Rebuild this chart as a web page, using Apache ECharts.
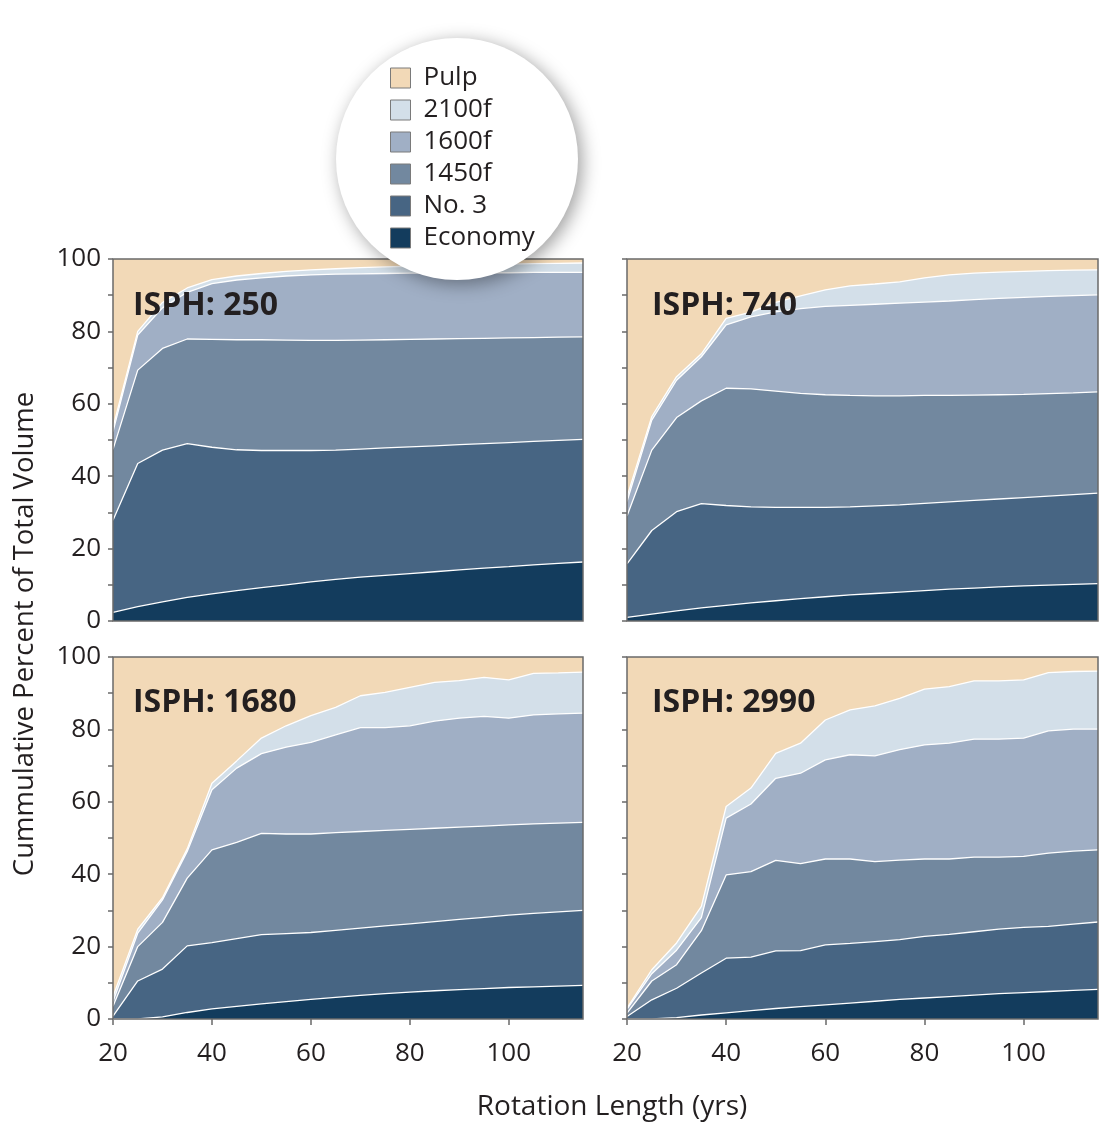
<!DOCTYPE html>
<html>
<head>
<meta charset="utf-8">
<script src="https://cdn.jsdelivr.net/npm/echarts@6/dist/echarts.min.js"></script>
<style>
  html, body { margin: 0; padding: 0; background: #ffffff; }
  #chart { width: 1102px; height: 1130px; }
</style>
</head>
<body>
<div id="chart"></div>
<script>
// Rotation lengths (years) sampled in every panel
const years = [20, 25, 30, 35, 40, 45, 50, 55, 60, 65, 70, 75, 80, 85, 90, 95, 100, 105, 110, 115];

// Tick values
const xTickLabels = [20, 40, 60, 80, 100];
const yTickLabels = [0, 20, 40, 60, 80, 100];
const yTickMarks = [0, 10, 20, 30, 40, 50, 60, 70, 80, 90, 100];

// Grade names, drawn top to bottom
const grades = ['Pulp', '2100f', '1600f', '1450f', 'No. 3', 'Economy'];
const panelTitles = ['ISPH: 250', 'ISPH: 740', 'ISPH: 1680', 'ISPH: 2990'];

// Cumulative percent of total volume (upper edge of each grade band)
const pulpTop = [100, 100, 100, 100, 100, 100, 100, 100, 100, 100, 100, 100, 100, 100, 100, 100, 100, 100, 100, 100];

// ISPH 250
const f2100_250 = [53.5, 80, 88, 92, 94.3, 95.3, 96, 96.6, 97, 97.3, 97.6, 97.8, 98, 98.2, 98.4, 98.5, 98.6, 98.7, 98.8, 98.9];
const f1600_250 = [52.3, 79, 86.5, 90.8, 93.2, 94.2, 94.8, 95.3, 95.6, 95.8, 95.9, 96, 96.1, 96.1, 96.2, 96.2, 96.2, 96.3, 96.3, 96.3];
const f1450_250 = [47.4, 69.3, 75.3, 77.9, 77.8, 77.7, 77.7, 77.6, 77.5, 77.5, 77.6, 77.7, 77.8, 77.9, 78, 78.1, 78.2, 78.3, 78.4, 78.5];
const no3_250 = [27.8, 43.5, 47.2, 49, 48, 47.3, 47.1, 47.1, 47.1, 47.2, 47.5, 47.8, 48.1, 48.4, 48.7, 49, 49.3, 49.6, 49.9, 50.2];
const econ_250 = [2.4, 4, 5.3, 6.5, 7.5, 8.4, 9.2, 10, 10.8, 11.5, 12.1, 12.6, 13.1, 13.6, 14.1, 14.6, 15, 15.5, 15.9, 16.3];

// ISPH 740
const f2100_740 = [34.3, 56.5, 67.5, 73.8, 83.6, 85.3, 88, 89.8, 91.5, 92.6, 93.1, 93.7, 94.8, 95.6, 96.1, 96.4, 96.6, 96.8, 96.9, 97];
const f1600_740 = [33, 55.5, 66.5, 73, 81.8, 84, 85.4, 86.3, 86.9, 87.2, 87.5, 87.8, 88.1, 88.4, 88.8, 89.1, 89.4, 89.7, 89.9, 90.1];
const f1450_740 = [29, 47.2, 56.2, 60.8, 64.3, 64.1, 63.5, 62.9, 62.5, 62.3, 62.2, 62.2, 62.3, 62.3, 62.4, 62.5, 62.6, 62.8, 63, 63.3];
const no3_740 = [15.8, 25, 30.2, 32.4, 31.9, 31.5, 31.4, 31.4, 31.4, 31.5, 31.8, 32.1, 32.5, 32.9, 33.3, 33.7, 34.1, 34.5, 34.9, 35.3];
const econ_740 = [1, 1.9, 2.8, 3.6, 4.3, 5, 5.6, 6.2, 6.7, 7.2, 7.6, 8, 8.4, 8.8, 9.1, 9.4, 9.7, 9.9, 10.1, 10.3];

// ISPH 1680
const f2100_1680 = [6.2, 24.8, 33.5, 47, 65.1, 71.3, 77.6, 81, 83.8, 86.1, 89.3, 90.2, 91.6, 93, 93.5, 94.4, 93.7, 95.5, 95.6, 95.8];
const f1600_1680 = [4.8, 23.7, 32.9, 46.3, 63.3, 69.3, 73.3, 75.1, 76.4, 78.5, 80.5, 80.5, 81, 82.3, 83.1, 83.6, 83.1, 84, 84.3, 84.5];
const f1450_1680 = [3.5, 20, 26.7, 38.9, 46.7, 48.8, 51.3, 51.1, 51.1, 51.5, 51.8, 52.1, 52.4, 52.7, 53, 53.3, 53.6, 53.9, 54.1, 54.3];
const no3_1680 = [0.8, 10.5, 13.8, 20.2, 21.1, 22.2, 23.3, 23.6, 23.9, 24.5, 25.1, 25.7, 26.3, 26.9, 27.5, 28.1, 28.7, 29.2, 29.6, 30];
const econ_1680 = [0, 0, 0.6, 1.8, 2.8, 3.5, 4.2, 4.8, 5.4, 6, 6.5, 7, 7.4, 7.8, 8.1, 8.4, 8.7, 8.9, 9.1, 9.3];

// ISPH 2990
const f2100_2990 = [3, 13.6, 21, 31.1, 58.7, 63.8, 73.4, 76.2, 82.6, 85.4, 86.5, 88.6, 91.1, 91.8, 93.4, 93.4, 93.7, 95.7, 96, 96.1];
const f1600_2990 = [2.7, 12.5, 19, 28, 55.5, 59.4, 66.5, 67.9, 71.6, 73, 72.7, 74.4, 75.7, 76.2, 77.3, 77.3, 77.6, 79.6, 80.1, 80.1];
const f1450_2990 = [1.6, 10.5, 15, 24.4, 39.8, 40.7, 43.8, 42.9, 44.2, 44.2, 43.5, 43.9, 44.2, 44.2, 44.7, 44.7, 44.9, 45.8, 46.4, 46.7];
const no3_2990 = [0.7, 5.3, 8.5, 12.7, 16.8, 17.1, 18.8, 18.9, 20.5, 20.9, 21.4, 21.9, 22.8, 23.4, 24.1, 24.8, 25.3, 25.6, 26.2, 26.8];
const econ_2990 = [0, 0, 0.4, 1.1, 1.7, 2.3, 2.9, 3.4, 3.9, 4.4, 4.9, 5.4, 5.8, 6.2, 6.6, 7, 7.3, 7.6, 7.9, 8.2];

const panelBands = [
  [pulpTop, f2100_250, f1600_250, f1450_250, no3_250, econ_250],
  [pulpTop, f2100_740, f1600_740, f1450_740, no3_740, econ_740],
  [pulpTop, f2100_1680, f1600_1680, f1450_1680, no3_1680, econ_1680],
  [pulpTop, f2100_2990, f1600_2990, f1450_2990, no3_2990, econ_2990]
];

// Styling
const gradeColors = ['#f2d9b7', '#d3dfe9', '#a0afc5', '#72889f', '#476583', '#133c5d'];
const FONT = "'Open Sans', 'Noto Sans', sans-serif";
const INK = '#231f20';
const FRAME = '#6a6a6a';

// Panel boxes in pixels: top-left, top-right, bottom-left, bottom-right
const boxes = [
  { left: 113, top: 259, width: 470, height: 362 },
  { left: 627, top: 259, width: 471, height: 362 },
  { left: 113, top: 657, width: 470, height: 362 },
  { left: 627, top: 657, width: 471, height: 362 }
];

const grids = boxes.map(b => ({ left: b.left, top: b.top, width: b.width, height: b.height, containLabel: false }));

const xAxes = boxes.map((b, i) => {
  const bottomRow = i >= 2;
  return {
    gridIndex: i, type: 'value', min: 20, max: 115,
    axisLine: { show: false },
    splitLine: { show: false },
    axisTick: { show: bottomRow, inside: false, length: 6, customValues: xTickLabels,
                lineStyle: { color: FRAME, width: 1.5 } },
    axisLabel: { show: bottomRow, customValues: xTickLabels, margin: 22,
                 fontFamily: FONT, fontSize: 26, color: INK }
  };
});

const yAxes = boxes.map((b, i) => {
  const leftCol = i % 2 === 0;
  return {
    gridIndex: i, type: 'value', min: 0, max: 100, interval: 10,
    axisLine: { show: false },
    splitLine: { show: false },
    axisTick: { show: true, inside: false, length: 5, customValues: yTickMarks,
                lineStyle: { color: FRAME, width: 1.5 } },
    axisLabel: { show: leftCol, customValues: yTickLabels, margin: 12,
                 fontFamily: FONT, fontSize: 26, color: INK }
  };
});

const series = [];
panelBands.forEach((bands, p) => {
  bands.forEach((vals, g) => {
    series.push({
      name: grades[g],
      type: 'line',
      xAxisIndex: p, yAxisIndex: p,
      data: years.map((yr, k) => [yr, vals[k]]),
      showSymbol: false,
      symbol: 'none',
      silent: true,
      itemStyle: { color: gradeColors[g] },
      lineStyle: { color: '#ffffff', width: g === 0 ? 0 : 1.3 },
      areaStyle: { color: gradeColors[g], opacity: 1, origin: 'start' },
      z: 2
    });
  });
});

const graphics = [];
// Panel frames
boxes.forEach(b => {
  graphics.push({
    type: 'rect', z: 50, silent: true,
    shape: { x: b.left, y: b.top, width: b.width, height: b.height },
    style: { fill: null, stroke: FRAME, lineWidth: 1.5 }
  });
});
// Panel headings
const titlePos = [[133, 306], [652, 306], [133, 703], [652, 703]];
panelTitles.forEach((t, i) => {
  graphics.push({
    type: 'text', z: 60, silent: true,
    style: { x: titlePos[i][0], y: titlePos[i][1], text: t, fill: INK,
             font: "bold 32px " + FONT, align: 'left', verticalAlign: 'middle' }
  });
});
// Axis titles
graphics.push({
  type: 'text', z: 60, silent: true, x: 25, y: 634, rotation: Math.PI / 2,
  style: { x: 0, y: 0, text: 'Cummulative Percent of Total Volume', fill: INK,
           font: "27.5px " + FONT, align: 'center', verticalAlign: 'middle' }
});
graphics.push({
  type: 'text', z: 60, silent: true,
  style: { x: 612, y: 1107, text: 'Rotation Length (yrs)', fill: INK,
           font: "28px " + FONT, align: 'center', verticalAlign: 'middle' }
});
// Round legend backdrop
graphics.push({
  type: 'circle', z: 100, silent: true,
  shape: { cx: 457, cy: 159, r: 121 },
  style: { fill: '#ffffff', shadowBlur: 18, shadowOffsetX: 4, shadowOffsetY: 4,
           shadowColor: 'rgba(0,0,0,0.38)' }
});

const option = {
  animation: false,
  backgroundColor: '#ffffff',
  grid: grids,
  xAxis: xAxes,
  yAxis: yAxes,
  legend: {
    z: 200,
    orient: 'vertical',
    left: 390, top: 65,
    padding: 0,
    itemWidth: 20, itemHeight: 20, itemGap: 6,
    icon: 'rect',
    selectedMode: false,
    data: grades,
    itemStyle: { borderColor: '#7a7a7a', borderWidth: 1 },
    textStyle: { fontFamily: FONT, fontSize: 26, color: INK, padding: [0, 0, 0, 8] }
  },
  graphic: graphics,
  series: series
};

const chart = echarts.init(document.getElementById('chart'), null, { renderer: 'canvas' });
chart.setOption(option);
</script>
</body>
</html>
